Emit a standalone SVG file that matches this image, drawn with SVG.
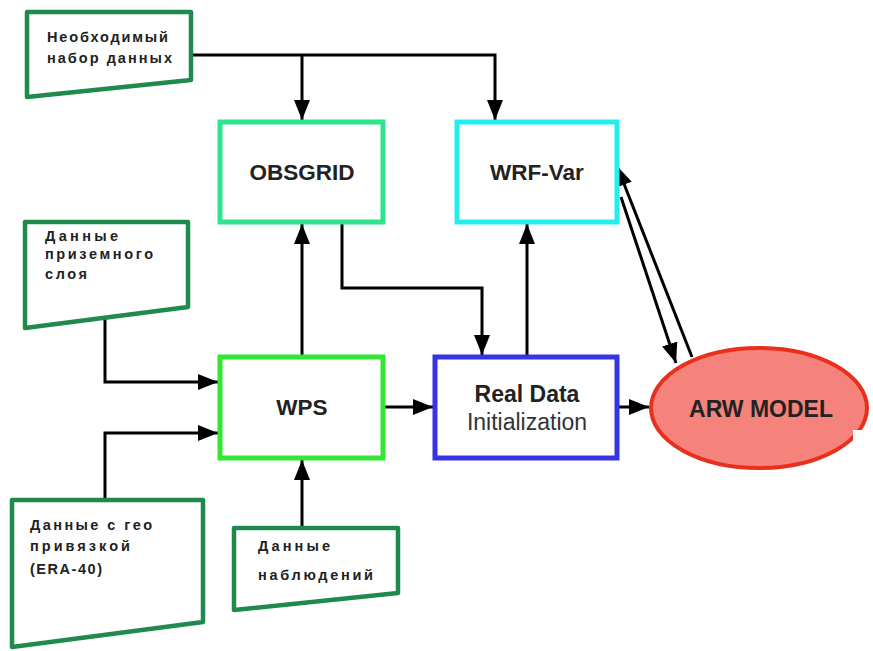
<svg xmlns="http://www.w3.org/2000/svg" width="873" height="651" viewBox="0 0 873 651">
<style>
.inp{fill:#fff;stroke:#1f8a4e;stroke-width:4.5;stroke-linejoin:round}
.box{fill:#fff;stroke-width:5}
.it{font-family:"Liberation Sans",Arial,sans-serif;font-weight:bold;font-size:14.5px;fill:#222}
.bt{font-family:"Liberation Sans",Arial,sans-serif;font-weight:bold;font-size:22.5px;fill:#222;text-anchor:middle}
.rt{font-family:"Liberation Sans",Arial,sans-serif;font-size:22px;fill:#333;text-anchor:middle}
.c{fill:none;stroke:#000;stroke-width:3}
</style>
<defs>
<marker id="ah" markerUnits="userSpaceOnUse" markerWidth="21" markerHeight="18" refX="20" refY="9" orient="auto">
<path d="M0,1 L20,9 L0,17 Z" fill="#000"/>
</marker>
</defs>
<rect width="873" height="651" fill="#fff"/>
<g id="connectors">
<path class="c" d="M191,55 H495 V120" marker-end="url(#ah)"/>
<path class="c" d="M302,55 V120" marker-end="url(#ah)"/>
<path class="c" d="M342,222 V288 H482 V355" marker-end="url(#ah)"/>
<path class="c" d="M527,357 V224" marker-end="url(#ah)"/>
<path class="c" d="M302,357 V224" marker-end="url(#ah)"/>
<path class="c" d="M105,318 V382 H218" marker-end="url(#ah)"/>
<path class="c" d="M105,500 V433 H218" marker-end="url(#ah)"/>
<path class="c" d="M302,528 V460" marker-end="url(#ah)"/>
<path class="c" d="M383,407 H433" marker-end="url(#ah)"/>
<path class="c" d="M617,407 H649" marker-end="url(#ah)"/>
<path class="c" d="M621,197 L676,363" marker-end="url(#ah)"/>
<path class="c" d="M692,357 L617,166" marker-end="url(#ah)"/>
</g>
<g id="n-dataset">
<path class="inp" d="M27,12 H191 V80 L27,97 Z"/>
<text class="it" x="47" y="42" textLength="121" lengthAdjust="spacing">Необходимый</text>
<text class="it" x="47" y="63" textLength="125" lengthAdjust="spacing">набор данных</text>
</g>
<g id="n-surface">
<path class="inp" d="M25,222 H188 V307 L25,328 Z"/>
<text class="it" x="45" y="241" textLength="73" lengthAdjust="spacing">Данные</text>
<text class="it" x="45" y="259" textLength="108" lengthAdjust="spacing">приземного</text>
<text class="it" x="45" y="279" textLength="42" lengthAdjust="spacing">слоя</text>
</g>
<g id="n-geo">
<path class="inp" d="M12,500 H203 V622 L12,647 Z"/>
<text class="it" x="30" y="530" textLength="122" lengthAdjust="spacing">Данные с гео</text>
<text class="it" x="30" y="551" textLength="100" lengthAdjust="spacing">привязкой</text>
<text class="it" x="30" y="574" textLength="72" lengthAdjust="spacing">(ERA-40)</text>
</g>
<g id="n-obs">
<path class="inp" d="M234,528 H398 V593 L234,610 Z"/>
<text class="it" x="258" y="551" textLength="72" lengthAdjust="spacing">Данные</text>
<text class="it" x="258" y="580" textLength="115" lengthAdjust="spacing">наблюдений</text>
</g>
<g id="n-obsgrid">
<rect class="box" x="220" y="122" width="163" height="100" stroke="#2ee58e"/>
<text class="bt" x="302" y="180">OBSGRID</text>
</g>
<g id="n-wrfvar">
<rect class="box" x="457" y="122" width="160" height="100" stroke="#22eeee"/>
<text class="bt" x="537" y="180">WRF-Var</text>
</g>
<g id="n-wps">
<rect class="box" x="220" y="357" width="163" height="101" stroke="#33e633"/>
<text class="bt" x="302" y="415">WPS</text>
</g>
<g id="n-real">
<rect class="box" x="435" y="357" width="182" height="101" stroke="#3535e6"/>
<text class="bt" x="527" y="402" style="font-size:23px">Real Data</text>
<text class="rt" x="527" y="430" style="font-size:23px">Initialization</text>
</g>
<g id="n-arw">
<ellipse cx="759" cy="408" rx="108" ry="60" fill="#f5837b" stroke="#e8301c" stroke-width="4"/>
<text class="bt" x="761" y="417" style="font-size:23px">ARW MODEL</text>
</g>
<rect x="853" y="430" width="20" height="45" fill="#fff"/>
</svg>
